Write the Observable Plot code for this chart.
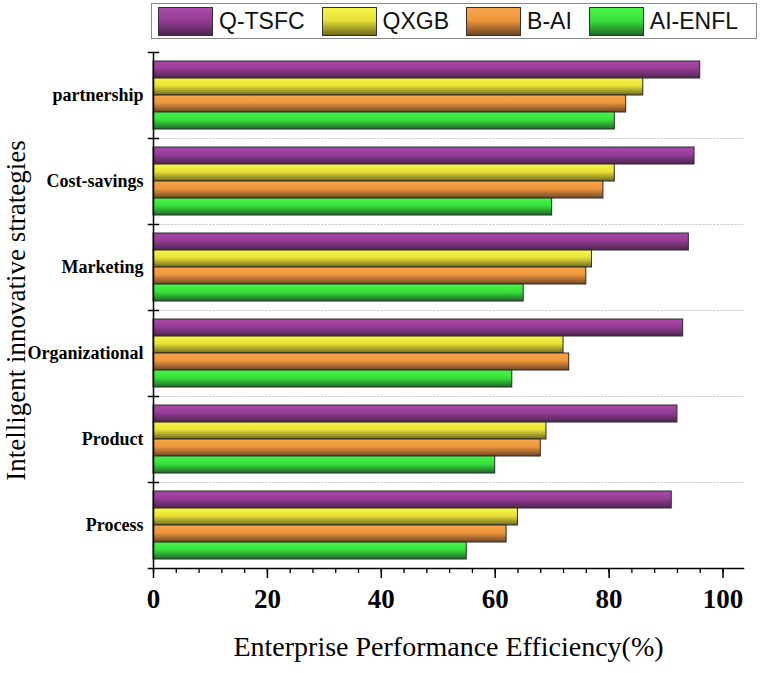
<!DOCTYPE html>
<html>
<head>
<meta charset="utf-8">
<script src="https://cdn.jsdelivr.net/npm/d3@7"></script>
<script src="https://cdn.jsdelivr.net/npm/@observablehq/plot@0.6"></script>
<style>
  body { margin: 0; background: white; }
  #legend {
    box-sizing: border-box;
    margin: 3px 0 0 151px;
    width: 606px;
    height: 36px;
    border: 1px solid #8a8a8a;
    display: flex;
    align-items: center;
    font-family: "Liberation Sans", Arial, sans-serif;
    font-size: 23px;
    color: #111;
  }
  #legend .sw {
    width: 55px;
    height: 29px;
    box-sizing: border-box;
    border: 1px solid #333;
    margin-left: 17px;
  }
  #legend .sw:first-child { margin-left: 6px; }
  #legend .lab { margin-left: 6px; }
  #chart { height: 631px; margin-top: 3px; }
</style>
</head>
<body>
<div id="legend"></div>
<div id="chart"></div>
<script>
// categories top -> bottom
const categories = ["partnership", "Cost-savings", "Marketing", "Organizational", "Product", "Process"];
const series = ["Q-TSFC", "QXGB", "B-AI", "AI-ENFL"];

const qtsfc = [96, 95, 94, 93, 92, 91];
const qxgb = [86, 81, 77, 72, 69, 64];
const bai = [83, 79, 76, 73, 68, 62];
const aienfl = [81, 70, 65, 63, 60, 55];

const majorTicks = [0, 20, 40, 60, 80, 100];
const minorTicks = d3.range(0, 101, 4);

// gradient stops per series: top, middle, bottom
const shades = [
  ["#a84aa8", "#963c96", "#4e244e"],
  ["#f8f44a", "#e8e236", "#6e6a1c"],
  ["#f8a54a", "#ee963c", "#6e4626"],
  ["#48f448", "#38e23c", "#1e6a28"]
];

const valuesBySeries = [qtsfc, qxgb, bai, aienfl];
const rows = categories.flatMap((c, i) =>
  series.map((s, j) => ({category: c, series: s, value: valuesBySeries[j][i]}))
);

/* legend html */
const legend = d3.select('#legend');
series.forEach((s, j) => {
  const [a, b, c] = shades[j];
  legend.append('div').attr('class', 'sw')
    .style('background', `linear-gradient(to bottom, ${a} 0%, ${b} 45%, ${c} 100%)`);
  legend.append('div').attr('class', 'lab').text(s);
});

const gradDefs = () => {
  const defs = d3.create('svg:defs');
  shades.forEach((sh, j) => {
    const g = defs.append('linearGradient')
      .attr('id', `grad${j}`).attr('x1', 0).attr('x2', 0).attr('y1', 0).attr('y2', 1);
    g.append('stop').attr('offset', '0%').attr('stop-color', sh[0]);
    g.append('stop').attr('offset', '45%').attr('stop-color', sh[1]);
    g.append('stop').attr('offset', '100%').attr('stop-color', sh[2]);
  });
  return defs.node();
};

const serif = "'Liberation Serif', 'Times New Roman', serif";

let chart = Plot.plot({
  width: 761,
  height: 631,
  marginTop: 8,
  marginBottom: 103,
  marginLeft: 153,
  marginRight: 18,
  style: {fontFamily: serif, background: 'white', color: '#000'},
  x: {domain: [0, 103.6], axis: null},
  y: {domain: series, paddingInner: 0, paddingOuter: 0.5, axis: null},
  fy: {domain: categories, padding: 0, axis: null},
  color: {domain: series, range: series.map((s, j) => `url(#grad${j})`)},
  marks: [
    gradDefs,
    Plot.frame({anchor: 'bottom', stroke: '#cfcfcf', strokeDasharray: '1.5,2'}),
    Plot.barX(rows, {
      x: 'value',
      y: 'series',
      fy: 'category',
      fill: 'series',
      stroke: '#2a2a2a',
      strokeWidth: 1
    }),
    // small ticks at the group boundaries on the y axis
    Plot.frame({anchor: 'top', insetLeft: -5, insetRight: 585, stroke: '#000', strokeWidth: 1.5}),
    Plot.frame({facet: 'super', anchor: 'left', stroke: '#000', strokeWidth: 1.5}),
    Plot.frame({facet: 'super', anchor: 'bottom', insetLeft: -5, stroke: '#000', strokeWidth: 1.5}),
    Plot.axisFy({anchor: 'left', tickSize: 0, tickPadding: 10, fontSize: 18, fontWeight: 'bold', label: null}),
    Plot.axisX({ticks: minorTicks, tickSize: 5, tickFormat: () => '', label: null, strokeWidth: 1.3}),
    Plot.axisX({ticks: majorTicks, tickSize: 10, tickPadding: 10, fontSize: 27, fontWeight: 'bold', label: null, strokeWidth: 1.5}),
    Plot.text(['Enterprise Performance Efficiency(%)'], {
      facet: 'super', frameAnchor: 'bottom', dy: 79, lineAnchor: 'middle', fontSize: 28
    }),
    Plot.text(['Intelligent innovative strategies'], {
      facet: 'super', frameAnchor: 'left', rotate: -90, dx: -137, textAnchor: 'middle', lineAnchor: 'middle', fontSize: 27
    })
  ]
});

d3.select('#chart').append(() => chart);
</script>
</body>
</html>
